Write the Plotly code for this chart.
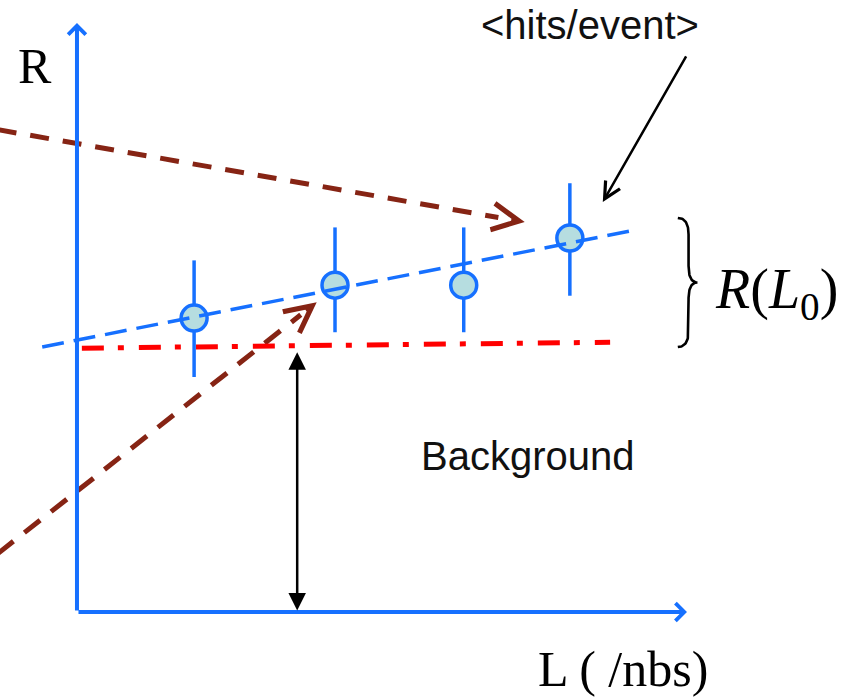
import numpy as np
import plotly.graph_objects as go

# Measured hit rate R (hits/event) versus luminosity L, arbitrary units
lumi = [1.92, 4.23, 6.34, 8.08]
rate = [4.99, 5.55, 5.55, 6.35]
err_up = [0.98, 0.98, 0.98, 0.93]
err_down = [1.00, 0.80, 0.80, 0.98]

# Straight-line fit, extended past the data on both sides
fit_L = [-0.57, 9.08]
fit_R = [4.50, 6.47]

# Background level (rate extrapolated to zero luminosity)
bkg_L = [0.08, 8.74]
bkg_R = [4.48, 4.58]

# Dashed guide arrows: (tail, tip)
guide_top_L = [-1.30, 7.34]
guide_top_R = [8.19, 6.62]
guide_low_L = [-1.30, 3.93]
guide_low_R = [0.99, 5.26]

# Axis extents (arrow tips)
axis_L_max = 10.0
axis_R_max = 10.0

# Pointer from the "<hits/event>" label to the last point
hits_tail = (10.0, 9.46)
hits_tip = (8.62, 6.96)

# Background height marker
bkg_marker_L = 3.61
bkg_marker_R = 4.41

# Span of the R(L0) brace
brace_R = (4.50, 6.69)
brace_L = (9.85, 10.17)

X_RANGE = [-1.262, 12.607]
Y_RANGE = [-1.443, 10.391]
PX_X = 846 / (X_RANGE[1] - X_RANGE[0])
PX_Y = 697 / (Y_RANGE[1] - Y_RANGE[0])

BLUE = "#1670ff"
BROWN = "#862414"
RED = "#ff0000"
FILL = "#b6dde0"


def brace_path(x_left, x_tip, y_bot, y_top, n=24):
    """Right-pointing curly brace as a polyline."""
    x_mid = x_left + 0.55 * (x_tip - x_left)
    y_mid = 0.5 * (y_bot + y_top)
    hook = 0.28
    t = np.linspace(0, 1, n)

    def quad(p0, p1, p2):
        xs = (1 - t) ** 2 * p0[0] + 2 * (1 - t) * t * p1[0] + t ** 2 * p2[0]
        ys = (1 - t) ** 2 * p0[1] + 2 * (1 - t) * t * p1[1] + t ** 2 * p2[1]
        return list(xs), list(ys)

    xs, ys = [], []
    for seg in (
        quad((x_left, y_top), (x_mid, y_top), (x_mid, y_top - hook)),
        quad((x_mid, y_mid + hook), (x_mid, y_mid), (x_tip, y_mid)),
        quad((x_tip, y_mid), (x_mid, y_mid), (x_mid, y_mid - hook)),
        quad((x_mid, y_bot + hook), (x_mid, y_bot), (x_left, y_bot)),
    ):
        xs += seg[0]
        ys += seg[1]
    return xs, ys


fig = go.Figure()

# guide arrows (dashed shafts, stopping short of the heads)
for Ls, Rs, dash in ((guide_top_L, guide_top_R, "19px,14px"),
                     (guide_low_L, guide_low_R, "20px,14px")):
    frac = 0.95
    fig.add_trace(go.Scatter(
        x=[Ls[0], Ls[0] + frac * (Ls[1] - Ls[0])],
        y=[Rs[0], Rs[0] + frac * (Rs[1] - Rs[0])],
        mode="lines", line=dict(color=BROWN, width=5, dash=dash),
        hoverinfo="skip"))

# background level
fig.add_trace(go.Scatter(x=bkg_L, y=bkg_R, mode="lines",
                         line=dict(color=RED, width=5, dash="22px,14px,6px,15px"),
                         hoverinfo="skip"))

# data points with asymmetric error bars
fig.add_trace(go.Scatter(
    x=lumi, y=rate, mode="markers",
    marker=dict(size=26, color=FILL, line=dict(color=BLUE, width=3.5)),
    error_y=dict(type="data", symmetric=False, array=err_up, arrayminus=err_down,
                 color=BLUE, thickness=3.5, width=0),
))

# fit line
fig.add_trace(go.Scatter(x=fit_L, y=fit_R, mode="lines",
                         line=dict(color=BLUE, width=3.5, dash="22px,10px"),
                         hoverinfo="skip"))

# brace
bx, by = brace_path(brace_L[0], brace_L[1], brace_R[0], brace_R[1])
fig.add_trace(go.Scatter(x=bx, y=by, mode="lines",
                         line=dict(color="black", width=2.6), hoverinfo="skip"))

annotations = []


def arrow(tip, tail, color, width, head, size, side="end", start_head=None):
    d = dict(x=tip[0], y=tip[1], ax=tail[0], ay=tail[1],
             xref="x", yref="y", axref="x", ayref="y",
             text="", showarrow=True, arrowcolor=color, arrowwidth=width,
             arrowhead=head, arrowsize=size, arrowside=side, standoff=0,
             startstandoff=0)
    if start_head is not None:
        d["startarrowhead"] = start_head
        d["startarrowsize"] = size
    annotations.append(d)


# axes drawn as arrows from the origin
arrow((0, axis_R_max), (0, 0), BLUE, 4, 4, 0.85)
arrow((axis_L_max, 0), (0, 0), BLUE, 4, 4, 0.85)

# heads of the dashed guide arrows: a short shaft carries the chevron
for Ls, Rs in ((guide_top_L, guide_top_R), (guide_low_L, guide_low_R)):
    tip = (Ls[1], Rs[1])
    dxp = (Ls[1] - Ls[0]) * PX_X
    dyp = (Rs[1] - Rs[0]) * PX_Y
    back = 14.0 / np.hypot(dxp, dyp)
    tail = (Ls[1] - back * (Ls[1] - Ls[0]), Rs[1] - back * (Rs[1] - Rs[0]))
    arrow(tip, tail, BROWN, 5, 5, 1.05)

# pointer to the last measurement
arrow(hits_tip, hits_tail, "black", 2.5, 5, 1.3)

# background height double arrow
arrow((bkg_marker_L, bkg_marker_R), (bkg_marker_L, 0), "black", 2.5, 2, 1.4,
      side="end+start", start_head=2)

SERIF = "Liberation Serif, Times New Roman, serif"
SANS = "Liberation Sans, Arial, sans-serif"

labels = [
    dict(x=-0.69, y=9.27, text="R", font=dict(family=SERIF, size=50, color="black")),
    dict(x=8.95, y=-0.96, text="L ( /nbs)", font=dict(family=SERIF, size=50, color="black")),
    dict(x=7.38, y=2.65, text="Background", font=dict(family=SANS, size=40, color="#111111")),
    dict(x=8.41, y=9.97, text="&lt;hits/event&gt;", font=dict(family=SANS, size=40, color="#111111")),
    dict(x=11.46, y=5.42, text="<i>R</i>(<i>L</i><sub>0</sub>)",
         font=dict(family=SERIF, size=56, color="black")),
]
for lab in labels:
    lab.update(xref="x", yref="y", showarrow=False, xanchor="center", yanchor="middle")
    annotations.append(lab)

fig.update_layout(
    width=846, height=697,
    margin=dict(l=0, r=0, t=0, b=0),
    paper_bgcolor="white", plot_bgcolor="white",
    showlegend=False,
    xaxis=dict(range=X_RANGE, visible=False, fixedrange=True),
    yaxis=dict(range=Y_RANGE, visible=False, fixedrange=True),
    annotations=annotations,
)

fig.write_html("out.html")
